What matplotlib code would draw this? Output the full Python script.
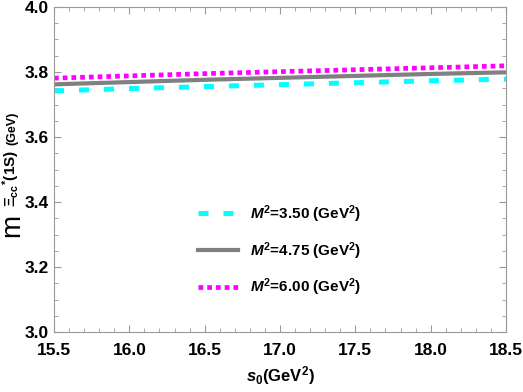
import matplotlib.pyplot as plt
import numpy as np
from matplotlib.ticker import MultipleLocator

plt.rcParams['font.family'] = ['Liberation Sans', 'DejaVu Sans']
plt.rcParams['mathtext.fontset'] = 'custom'
plt.rcParams['mathtext.rm'] = 'Liberation Sans:bold'
plt.rcParams['mathtext.it'] = 'Liberation Sans:italic:bold'
plt.rcParams['mathtext.bf'] = 'Liberation Sans:bold'

s0 = [15.5, 16.0, 16.5, 17.0, 17.5, 18.0, 18.5]
m_350 = [3.742, 3.749, 3.755, 3.761, 3.767, 3.773, 3.778]
m_475 = [3.762, 3.769, 3.776, 3.782, 3.788, 3.794, 3.799]
m_600 = [3.781, 3.788, 3.795, 3.801, 3.807, 3.813, 3.819]
labels = ['3.50', '4.75', '6.00']

W, H = 523, 392
fig = plt.figure(figsize=(W / 100, H / 100), dpi=100)
ax = fig.add_axes([54/W, 60/H, 452/W, 325/H])

ax.plot(s0, m_350, color='cyan', lw=3.6, dashes=(2, 3),
        label=r'$M^2$=' + labels[0] + r' (GeV$^2$)')
ax.plot(s0, m_475, color='gray', lw=3,
        label=r'$M^2$=' + labels[1] + r' (GeV$^2$)')
ax.plot(s0, m_600, color='magenta', lw=3.4, dashes=(1, 0.85),
        label=r'$M^2$=' + labels[2] + r' (GeV$^2$)')

ax.set_xlim(15.5, 18.5)
ax.set_ylim(3.0, 4.0)
ax.xaxis.set_major_locator(MultipleLocator(0.5))
ax.xaxis.set_minor_locator(MultipleLocator(0.1))
ax.yaxis.set_major_locator(MultipleLocator(0.2))
ax.yaxis.set_minor_locator(MultipleLocator(0.05))
ax.xaxis.set_major_formatter(plt.FormatStrFormatter('%.1f'))
ax.yaxis.set_major_formatter(plt.FormatStrFormatter('%.1f'))
ax.tick_params(which='both', direction='in', top=True, right=True, color='#999999')
ax.tick_params(which='major', length=5, labelsize=12.5)
ax.tick_params(axis='x', which='major', pad=8)
ax.tick_params(which='minor', length=3)
for lab in ax.get_xticklabels() + ax.get_yticklabels():
    lab.set_fontweight('bold')
for sp in ax.spines.values():
    sp.set_color('#999999')

ax.set_xlabel(r'$s_0$(GeV$^2$)', fontsize=12, fontweight='bold', labelpad=4)

# y label: big "m" with a small subscript, written in three pieces
kw = dict(rotation=90, rotation_mode='anchor', ha='left', va='baseline')
fig.text(19/W, 1 - 237/H, 'm', fontsize=20, **kw)
fig.text(16/W, 1 - 207/H, r'$\Xi_{\mathrm{cc}}{}^{*}$(1S)', fontsize=11, fontweight='bold', **kw)
fig.text(15/W, 1 - 145/H, '(GeV)', fontsize=9, fontweight='bold', **kw)

leg = ax.legend(loc='center', bbox_to_anchor=(0.50, 0.25), frameon=False,
                handlelength=2.6, fontsize=11, labelspacing=1.0)
for t in leg.get_texts():
    t.set_fontweight('bold')

fig.savefig('out.png', dpi=100)
